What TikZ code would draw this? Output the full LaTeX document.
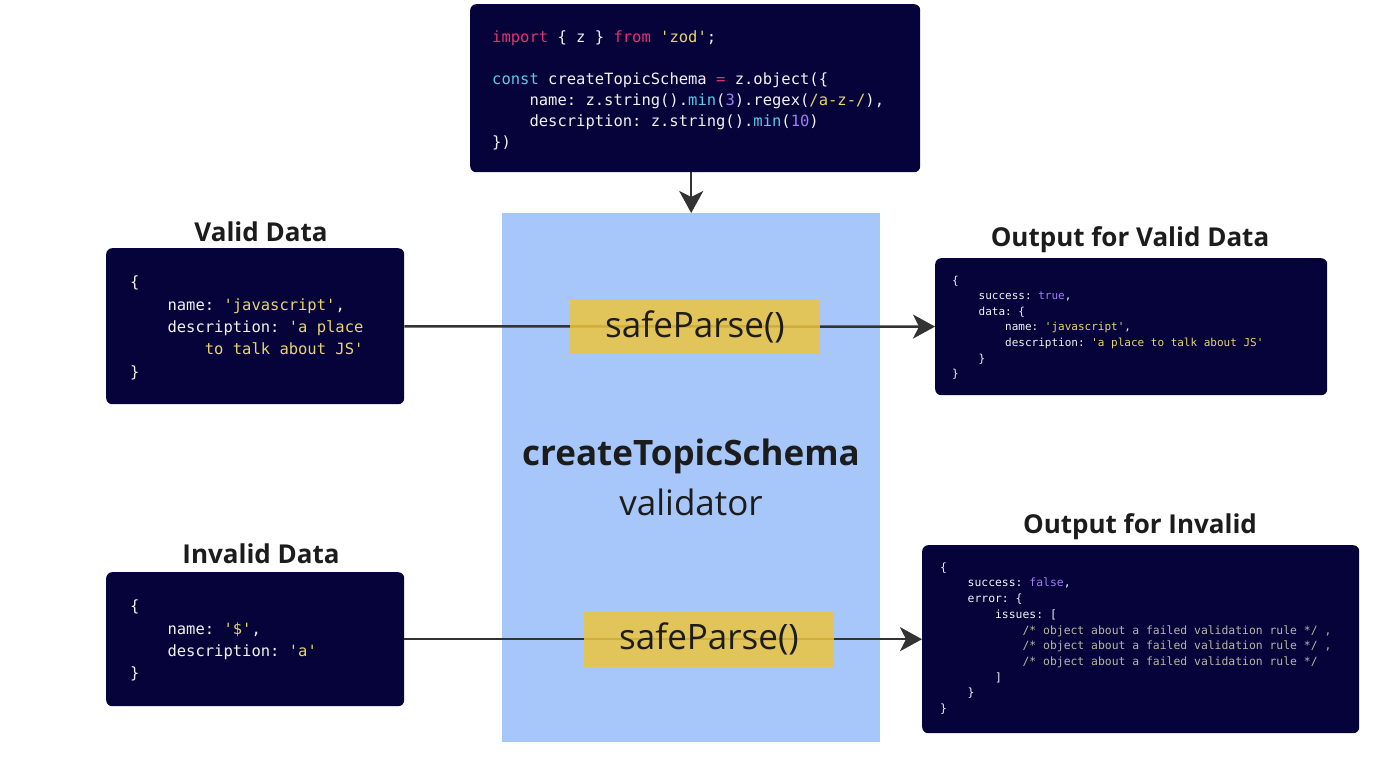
\documentclass[tikz,border=0pt]{standalone}
\usepackage{fontspec}
\setmainfont{Open Sans}
\newfontfamily\codefont{DejaVu Sans Mono}[Ligatures=TeXOff]
\usetikzlibrary{arrows.meta,positioning}

\definecolor{codebg}{HTML}{05033A}
\definecolor{codefg}{HTML}{F2F2F2}
\definecolor{zodpink}{HTML}{E3336C}
\definecolor{zodcyan}{HTML}{5CC9E6}
\definecolor{zodyellow}{HTML}{E8D46A}
\definecolor{zodpurple}{HTML}{A47CF6}
\definecolor{zodgray}{HTML}{B8B5A2}
\definecolor{schemablue}{HTML}{A7C7FB}
\definecolor{parsegold}{RGB}{236,196,62}
\definecolor{arrowgray}{HTML}{333333}
\definecolor{titlegray}{HTML}{1C1C1C}

\newcommand\codekw[1]{\textcolor{zodpink}{#1}}
\newcommand\codefn[1]{\textcolor{zodcyan}{#1}}
\newcommand\codestr[1]{\textcolor{zodyellow}{#1}}
\newcommand\codenum[1]{\textcolor{zodpurple}{#1}}
\newcommand\codecom[1]{\textcolor{zodgray}{#1}}
\newcommand\ind{\hphantom{xxxx}}

\tikzset{
  codebox/.style={fill=codebg, rounded corners=6pt, inner sep=0pt, anchor=north west},
  codetext/.style={inner sep=0pt, anchor=north west, align=left, text=codefg,
    font=\codefont\frenchspacing\fontsize{15.5}{22.3}\selectfont},
  smallcode/.style={codetext, font=\codefont\frenchspacing\fontsize{11}{15.6}\selectfont},
  title/.style={inner sep=0pt, text=titlegray, font=\bfseries\fontsize{26}{30}\selectfont},
  parsebox/.style={fill=parsegold, fill opacity=0.85, text opacity=1, text=titlegray,
    minimum width=250pt, minimum height=55pt, inner sep=0pt, font=\fontsize{35}{40}\selectfont},
  flow/.style={draw=arrowgray, line width=2.5pt, -{Stealth[length=22pt,width=24pt,inset=6pt]}}
}

\begin{document}
\begin{tikzpicture}[x=1pt,y=1pt]
  %%%%% START %%%%%
  \useasboundingbox (0,0) rectangle (1391,-775);

  % validator in the middle
  \node[fill=schemablue, anchor=north west, minimum width=378pt, minimum height=529pt, inner sep=0pt]
    (schemabox) at (502,-213) {};
  \node[text=titlegray, inner sep=0pt, font=\bfseries\fontsize{35}{40}\selectfont]
    (schemaname) at (691,-456) {createTopicSchema};
  \node[text=titlegray, inner sep=0pt, font=\fontsize{35}{40}\selectfont]
    (schemarole) at (691,-502) {validator};

  % schema code
  \node[codebox, minimum width=450pt, minimum height=168pt] (topbox) at (470,-4) {};
  \node[codetext, font=\codefont\frenchspacing\fontsize{15.5}{21}\selectfont] (topcode)
    at ([shift={(22,-26.5)}]topbox.north west)
    {\codekw{import} \{ z \} \codekw{from} \codestr{'zod'};\\[21pt]
     \codefn{const} createTopicSchema \codekw{=} z.object(\{\\
     \ind name: z.string().\codefn{min}(\codenum{3}).regex(\codestr{/a-z-/}),\\
     \ind description: z.string().\codefn{min}(\codenum{10})\\
     \})};

  % inputs
  \node[title] (validtitle) at (261,-232) {Valid Data};
  \node[codebox, minimum width=298pt, minimum height=156pt] (validbox) at (106,-248) {};
  \node[codetext] (validcode) at ([shift={(24,-28)}]validbox.north west)
    {\{\\
     \ind name: \codestr{'javascript'},\\
     \ind description: \codestr{'a place}\\
     \ind\ind\codestr{to talk about JS'}\\
     \}};

  \node[title] (invalidtitle) at (261,-554) {Invalid Data};
  \node[codebox, minimum width=298pt, minimum height=134pt] (invalidbox) at (106,-572) {};
  \node[codetext] (invalidcode) at ([shift={(24,-28)}]invalidbox.north west)
    {\{\\
     \ind name: \codestr{'\$'},\\
     \ind description: \codestr{'a'}\\
     \}};

  % outputs
  \node[title] (outvalidtitle) at (1130,-240) {Output for Valid Data};
  \node[codebox, minimum width=392pt, minimum height=137pt] (outvalid) at (935,-258) {};
  \node[smallcode] (outvalidcode) at ([shift={(17,-17.6)}]outvalid.north west)
    {\{\\
     \ind success: \codenum{true},\\
     \ind data: \{\\
     \ind\ind name: \codestr{'javascript'},\\
     \ind\ind description: \codestr{'a place to talk about JS'}\\
     \ind\}\\
     \}};

  \node[title] (outinvalidtitle) at (1140,-527) {Output for Invalid};
  \node[codebox, minimum width=437pt, minimum height=188pt] (outinvalid) at (922,-545) {};
  \node[smallcode, font=\codefont\frenchspacing\fontsize{11.4}{15.7}\selectfont] (outinvalidcode)
    at ([shift={(18,-17.4)}]outinvalid.north west)
    {\{\\
     \ind success: \codenum{false},\\
     \ind error: \{\\
     \ind\ind issues: [\\
     \ind\ind\ind\codecom{/* object about a failed validation rule */ ,}\\
     \ind\ind\ind\codecom{/* object about a failed validation rule */ ,}\\
     \ind\ind\ind\codecom{/* object about a failed validation rule */}\\
     \ind\ind]\\
     \ind\}\\
     \}};

  % connectors
  \draw[flow] (topbox.south -| schemabox.north) -- (schemabox.north);
  \draw[flow] (validbox) -- (outvalid);
  \draw[flow] (invalidbox) -- (outinvalid);

  \node[parsebox] (parse1) at (695,-326.5) {safeParse()};
  \node[parsebox] (parse2) at (709,-639) {safeParse()};
  %%%%% END %%%%%
\end{tikzpicture}
\end{document}
